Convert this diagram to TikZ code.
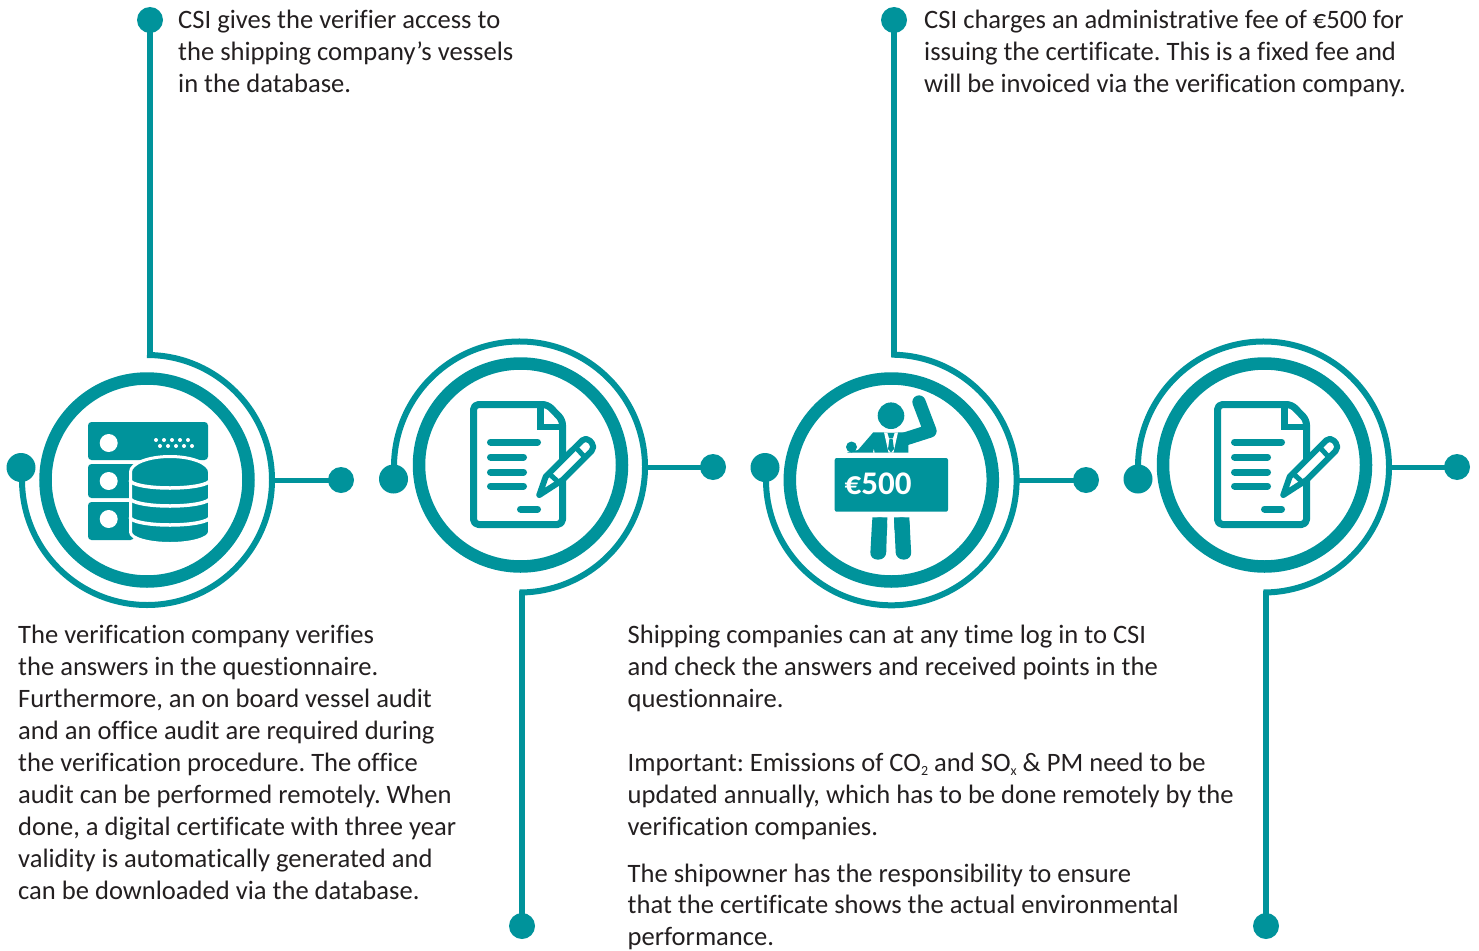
\documentclass[tikz,border=0pt]{standalone}
\usepackage{fontspec}
\setmainfont{Carlito}[Ligatures=CommonOff]
\definecolor{teal1}{HTML}{00939B}
\definecolor{ink}{HTML}{231F20}
\newcommand{\subtiny}[1]{\raisebox{-3.5pt}{\fontsize{14}{14}\selectfont #1}}
\tikzset{
  x=1pt,y=-1pt,
  thickring/.style={circle,draw=teal1,line width=12.5pt,minimum size=203pt,inner sep=0pt,fill=white},
  wire/.style={draw=teal1,line width=6pt},
  stub/.style={draw=teal1,line width=5pt},
  dotlg/.style={circle,fill=teal1,minimum size=29pt,inner sep=0pt},
  dotsm/.style={circle,fill=teal1,minimum size=26pt,inner sep=0pt},
  body/.style={anchor=north west,inner sep=0pt,align=left,text=ink,font=\frenchspacing\fontsize{26.57}{32.1}\selectfont},
  ico/.style={draw=teal1,line width=7pt,line join=round},
  icofill/.style={fill=teal1},
  bar/.style={draw=teal1,line width=7pt,line cap=round},
}
\newcommand{\docicon}[2]{%
 \begin{scope}[shift={(#1,#2)}]
  \draw[ico,rounded corners=5pt] (-47,-60.5) -- (27,-60.5) -- (42,-45) -- (42,59.5) -- (-47,59.5) -- cycle;
  \draw[draw=teal1,line width=6.5pt,line join=miter] (20,-60) -- (20,-38) -- (42,-38);
  \fill[white] (24.5,-55) -- (24.5,-42) -- (37.5,-42) -- cycle;
  \draw[bar] (-30,-23) -- (17,-23);
  \draw[bar] (-30,-8) -- (3,-8);
  \draw[bar] (-30,7) -- (3,7);
  \draw[bar] (-30,21) -- (3,21);
  \draw[bar] (0,44) -- (17,44);
  \draw[draw=teal1,line width=6pt,line join=round,fill=white]
     (18.8,30) -- (25.2,11.7) -- (60,-23) [rounded corners=5.5pt] -- (65.5,-28.5) -- (75,-18) [sharp corners] -- (42,15) -- cycle;
  \draw[teal1,line width=5pt] (55,-18) -- (65,-7);
  \draw[teal1,line width=5pt] (29,9) -- (40,19);
 \end{scope}}
\begin{document}
\begin{tikzpicture}
\useasboundingbox (0,0) rectangle (1479,950);
% rings
\node[thickring] (ring1) at (147,480) {};
\node[thickring] (ring2) at (520.5,465) {};
\node[thickring] (ring3) at (891.3,480) {};
\node[thickring] (ring4) at (1264.5,465) {};
\coordinate (thin2) at (519.5,467);
\coordinate (thin4) at (1263.5,467);
% dots
\node[dotsm] (top1) at (150,20) {};
\node[dotsm] (top3) at (894,20) {};
\node[dotlg] (left1) at (21,467.5) {};
\node[dotlg] (left2) at (393.5,479) {};
\node[dotlg] (left3) at (765,467.5) {};
\node[dotlg] (left4) at (1138,479) {};
\node[dotsm] (right1) at (341,480) {};
\node[dotsm] (right2) at (713,467) {};
\node[dotsm] (right3) at (1086,480) {};
\node[dotsm] (right4) at (1457,467) {};
\node[dotsm] (bot2) at (522,926) {};
\node[dotsm] (bot4) at (1266,926) {};
% corners
\coordinate (corner1) at (150,357);
\coordinate (corner3) at (894,357);
\coordinate (corner2) at (522,590.5);
\coordinate (corner4) at (1266,590.5);
% connectors
\draw[wire] (top1.center) -- (corner1);
\draw[wire] (top3.center) -- (corner3);
\draw[wire] (bot2.center) -- (corner2);
\draw[wire] (bot4.center) -- (corner4);
\draw[wire] ([shift={(90:125pt)}]ring1.center) arc[start angle=90,end angle=-186,radius=125pt];
\draw[wire] ([shift={(90:125.3pt)}]ring3.center) arc[start angle=90,end angle=-186,radius=125.3pt];
\draw[wire] ([shift={(186:125.5pt)}]thin2) arc[start angle=186,end angle=-90,radius=125.5pt];
\draw[wire] ([shift={(186:125.5pt)}]thin4) arc[start angle=186,end angle=-90,radius=125.5pt];
\draw[stub] (ring1.center) ++(125,0) -- (right1.center);
\draw[stub] (thin2) ++(125,0) -- (right2.center);
\draw[stub] (ring3.center) ++(125,0) -- (right3.center);
\draw[stub] (thin4) ++(125,0) -- (right4.center);
% server icon
\fill[icofill,rounded corners=3.5pt] (88,422) rectangle (208,460);
\fill[icofill,rounded corners=3.5pt] (88,464) rectangle (140,498);
\fill[icofill,rounded corners=3.5pt] (88,502) rectangle (134,540);
\foreach \y in {443,481,519} \fill[white] (108.7,\y) circle[radius=9pt];
\foreach \x in {156,164,172,180,188} \fill[white] (\x,440) circle[radius=2pt];
\foreach \x in {160,168,176,184,192} \fill[white] (\x,446) circle[radius=2pt];
\draw[draw=white,line width=3pt,fill=teal1] (130.5,472) arc[start angle=180,end angle=0,x radius=39.5pt,y radius=15.5pt] -- (209.5,532) arc[start angle=0,end angle=-180,x radius=39.5pt,y radius=11.5pt] -- cycle;
\foreach \y in {480,498,517}
  \draw[white,line width=3.5pt] (130,\y) arc[start angle=180,end angle=360,x radius=40pt,y radius=8pt];
% document icons
\docicon{520.5}{465}
\docicon{1264.5}{465}
% figure icon
\fill[icofill] (891,415.7) circle[radius=13.3pt];
\draw[teal1,line width=13.3pt,line cap=round,line join=round] (919,402) -- (930,431) -- (905,439);
\fill[icofill] (873.3,432.3) -- (908.3,432.3) -- (908.3,452.5) -- (847,452.5) -- (858,450) -- cycle;
\fill[icofill] (851.5,447) circle[radius=5.5pt];
\fill[white] (884,432.3) -- (898,432.3) -- (893.5,452.5) -- (888.5,452.5) -- cycle;
\fill[icofill] (887.5,433) -- (894.5,433) -- (893,438) -- (889,438) -- cycle;
\fill[icofill] (889.5,438.5) -- (892.5,438.5) -- (894,449) -- (891,452.5) -- (888,449) -- cycle;
\fill[white] (873,452.5) -- (873.8,449) -- (874.6,452.5) -- cycle;
\fill[icofill,rounded corners=2pt] (834.7,458) rectangle (948,511.7);
\node[anchor=base west,inner sep=0pt,text=white,font=\fontsize{33}{33}\selectfont\bfseries] (price) at (844.5,494.5) {€500};
\fill[icofill,rounded corners=7pt] (872.3,517.3) -- (887.3,517.3) -- (886,559.5) -- (870,559.5) -- cycle;
\fill[icofill] (872.3,517.3) -- (887.3,517.3) -- (887,530) -- (872,530) -- cycle;
\fill[icofill,rounded corners=7pt] (894,517.3) -- (909.3,517.3) -- (911.5,559.5) -- (896,559.5) -- cycle;
\fill[icofill] (894,517.3) -- (909.3,517.3) -- (910,530) -- (894.5,530) -- cycle;
% texts
\node[body] (t1) at (178,10) {CSI gives the verifier access to\\the shipping company’s vessels\\in the database.};
\node[body] (t2) at (924,10) {CSI charges an administrative fee of €500 for\\issuing the certificate. This is a fixed fee and\\will be invoiced via the verification company.};
\node[body] (t3) at (18,624.5) {The verification company verifies\\the answers in the questionnaire.\\Furthermore, an on board vessel audit\\and an office audit are required during\\the verification procedure. The office\\audit can be performed remotely. When\\done, a digital certificate with three year\\validity is automatically generated and\\can be downloaded via the database.};
\node[body] (t4) at (627.5,624.5) {Shipping companies can at any time log in to CSI\\and check the answers and received points in the\\questionnaire.};
\node[body] (t5) at (627.5,753) {Important: Emissions of CO\subtiny{2} and SO\subtiny{x} \& PM need to be\\updated annually, which has to be done remotely by the\\verification companies.};
\node[body,font=\frenchspacing\fontsize{26.57}{31.6}\selectfont] (t6) at (627.5,863.5) {The shipowner has the responsibility to ensure\\that the certificate shows the actual environmental\\performance.};
\end{tikzpicture}
\end{document}
